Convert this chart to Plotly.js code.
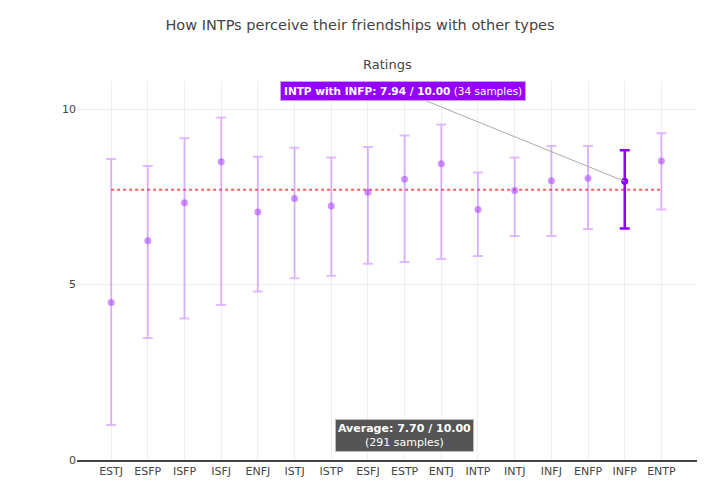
<!DOCTYPE html>
<html>
<head>
<meta charset="utf-8">
<script src="https://cdn.plot.ly/plotly-3.0.1.min.js"></script>
<style>body{margin:0;padding:0;background:#fff}#chart{width:720px;height:486px}</style>
</head>
<body>
<div id="chart"></div>
<script>
const types = ["ESTJ","ESFP","ISFP","ISFJ","ENFJ","ISTJ","ISTP","ESFJ","ESTP","ENTJ","INTP","INTJ","INFJ","ENFP","INFP","ENTP"];
const means = [4.49,6.25,7.33,8.50,7.07,7.45,7.24,7.63,8.00,8.44,7.14,7.68,7.96,8.03,7.94,8.52];
const upper = [8.58,8.38,9.17,9.76,8.64,8.90,8.62,8.92,9.25,9.56,8.19,8.62,8.95,8.95,8.83,9.31];
const lower = [1.00,3.48,4.03,4.42,4.80,5.18,5.25,5.59,5.64,5.73,5.81,6.38,6.38,6.58,6.60,7.14];
const highlightType = "INFP";
const highlightSamples = 34;
const averageValue = 7.70;
const averageSamples = 291;

const idx = types.indexOf(highlightType);
const otherX = [], otherY = [], otherUp = [], otherDn = [];
types.forEach((t, i) => {
  if (i === idx) return;
  otherX.push(i); otherY.push(means[i]);
  otherUp.push(upper[i] - means[i]); otherDn.push(means[i] - lower[i]);
});

const light = "rgba(170, 60, 255, 0.35)";
const lightMarker = "rgba(170, 60, 255, 0.55)";
const dark = "#8f00ff";

const traces = [
  {
    type: "scatter", mode: "lines",
    x: [0, types.length - 1], y: [averageValue, averageValue],
    line: {color: "rgba(240,70,70,0.85)", width: 2, dash: "dot"},
    hoverinfo: "skip", showlegend: false
  },
  {
    type: "scatter", mode: "markers",
    x: otherX, y: otherY,
    marker: {color: lightMarker, size: 7},
    error_y: {type: "data", symmetric: false, array: otherUp, arrayminus: otherDn, color: light, thickness: 2, width: 5},
    showlegend: false
  },
  {
    type: "scatter", mode: "markers",
    x: [idx], y: [means[idx]],
    marker: {color: dark, size: 7},
    error_y: {type: "data", symmetric: false, array: [upper[idx] - means[idx]], arrayminus: [means[idx] - lower[idx]], color: dark, thickness: 2.5, width: 5},
    showlegend: false
  }
];

const layout = {
  width: 720, height: 486,
  margin: {l: 77, r: 23, t: 81, b: 26},
  paper_bgcolor: "#fff", plot_bgcolor: "#fff",
  font: {family: "DejaVu Sans, Verdana, sans-serif", size: 11, color: "#444"},
  title: {text: "How INTPs perceive their friendships with other types", x: 0.5, xanchor: "center", y: 0.948, yanchor: "middle", font: {size: 14.5, color: "#444"}},
  xaxis: {
    range: [-0.93, 15.97], tickmode: "array", tickvals: types.map((_, i) => i), ticktext: types,
    showgrid: true, gridcolor: "#eee", zeroline: false, showline: true, linecolor: "#444", linewidth: 1.5,
    ticks: "", fixedrange: true
  },
  yaxis: {
    range: [0, 10.8], tickvals: [0, 5, 10], showgrid: true, gridcolor: "#eee", zeroline: false,
    showline: false, ticks: "", fixedrange: true
  },
  annotations: [
    {xref: "paper", yref: "paper", x: 0.5, y: 1.0, yshift: 17, xanchor: "center", yanchor: "middle", text: "Ratings", showarrow: false, font: {size: 13, color: "#444"}},
    {
      x: idx, y: means[idx], xref: "x", yref: "y",
      text: "<b>INTP with " + highlightType + ": " + means[idx].toFixed(2) + " / 10.00</b> (" + highlightSamples + " samples)",
      showarrow: true, arrowhead: 0, arrowcolor: "#aaa", arrowwidth: 1,
      ax: -222, ay: -90,
      bgcolor: "#9500ff", bordercolor: "#c9a0ff", borderwidth: 1, borderpad: 3,
      font: {color: "#fff", size: 10.5}
    },
    {
      x: 8, y: 0.71, xref: "x", yref: "y", xanchor: "center", yanchor: "middle",
      text: "<b>Average: " + averageValue.toFixed(2) + " / 10.00</b><br>(" + averageSamples + " samples)",
      showarrow: false, bgcolor: "#555555", bordercolor: "#bbb", borderwidth: 1, borderpad: 2,
      font: {color: "#fff", size: 11}
    }
  ]
};

Plotly.newPlot("chart", traces, layout, {displayModeBar: false, staticPlot: true});
</script>
</body>
</html>
